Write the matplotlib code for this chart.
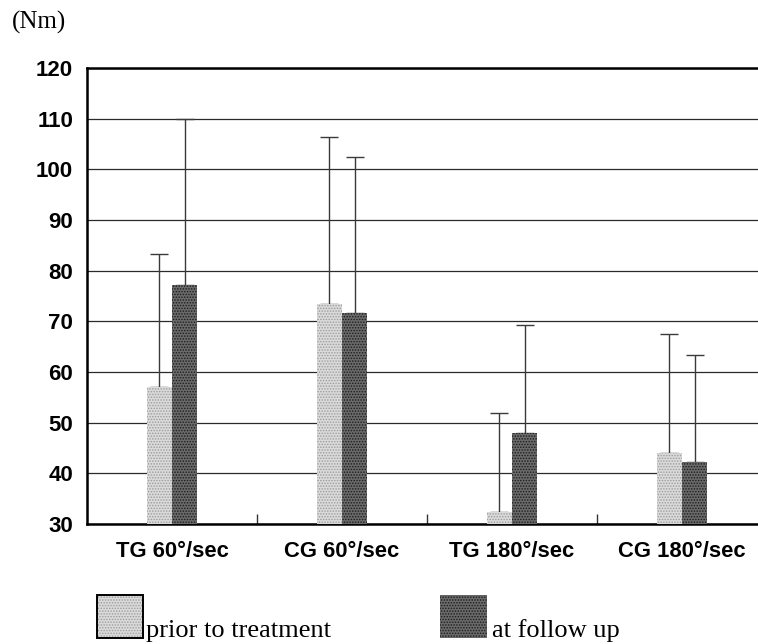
import matplotlib
matplotlib.use("Agg")
import matplotlib.pyplot as plt
from matplotlib.patches import Rectangle
import numpy as np

categories = ["TG 60°/sec", "CG 60°/sec", "TG 180°/sec", "CG 180°/sec"]
prior_mean = [57.0, 73.4, 32.4, 44.0]
prior_sd = [26.2, 33.0, 19.5, 23.5]
follow_mean = [77.2, 71.6, 48.0, 42.2]
follow_sd = [32.7, 30.8, 21.3, 21.2]
y_ticks = [30, 40, 50, 60, 70, 80, 90, 100, 110, 120]
legend_labels = ["prior to treatment", "at follow up"]

plt.rcParams["hatch.linewidth"] = 0.7

W, H = 758, 644
fig = plt.figure(figsize=(W / 100, H / 100), dpi=100)
ax = fig.add_axes([87 / W, 1 - 524 / H, 1 - 87 / W, (524 - 68) / H])

centers = np.arange(len(categories)) + 0.5
bw = 0.148

prior_style = dict(facecolor="#dadada", edgecolor="#9c9c9c", hatch="......", linewidth=0)
follow_style = dict(facecolor="#6a6a6a", edgecolor="#1c1c1c", hatch="......", linewidth=0)

ax.bar(centers - bw / 2, np.array(prior_mean) - 30, bw, bottom=30, zorder=3, **prior_style)
ax.bar(centers + bw / 2, np.array(follow_mean) - 30, bw, bottom=30, zorder=3, **follow_style)

for xs, m, s in [(centers - bw / 2, prior_mean, prior_sd), (centers + bw / 2, follow_mean, follow_sd)]:
    ax.errorbar(xs, m, yerr=[np.zeros(len(m)), s], fmt="none", ecolor="#3a3a3a",
                elinewidth=1.0, capsize=6.5, capthick=1.0, zorder=2)

ax.set_ylim(30, 120)
ax.set_xlim(0, (W - 87) / 170)
ax.set_yticks(y_ticks)
ax.yaxis.grid(True, color="#2a2a2a", linewidth=0.9, zorder=1)
ax.set_axisbelow(True)

ax.set_xticks(centers)
ax.set_xticklabels(categories)
ax.set_xticks([1, 2, 3], minor=True)
ax.tick_params(axis="x", which="major", length=0, pad=12)
ax.tick_params(axis="x", which="minor", direction="in", length=7, width=1, color="#333333")
ax.tick_params(axis="y", length=0, pad=10)
for lab in ax.get_xticklabels():
    lab.set_fontfamily("Liberation Sans")
    lab.set_fontweight("bold")
    lab.set_fontsize(15.8)
for lab in ax.get_yticklabels():
    lab.set_fontfamily("Liberation Sans")
    lab.set_fontweight("bold")
    lab.set_fontsize(16)

ax.spines["right"].set_visible(False)
for side in ["left", "bottom", "top"]:
    ax.spines[side].set_linewidth(1.8)
    ax.spines[side].set_color("black")

fig.text(12 / W, 1 - 22 / H, "(Nm)", fontfamily="Liberation Serif", fontsize=18, va="center", ha="left")

# legend swatches and labels
fig.add_artist(Rectangle((97 / W, 1 - 638 / H), 46 / W, 43 / H, transform=fig.transFigure,
                         facecolor="#dadada", edgecolor="#9c9c9c", hatch="......", linewidth=0))
fig.add_artist(Rectangle((97 / W, 1 - 638 / H), 46 / W, 43 / H, transform=fig.transFigure,
                         facecolor="none", edgecolor="black", linewidth=1.4))
fig.add_artist(Rectangle((440 / W, 1 - 638 / H), 47 / W, 43 / H, transform=fig.transFigure,
                         facecolor="#6a6a6a", edgecolor="#1c1c1c", hatch="......", linewidth=0))
fig.text(146 / W, 1 - 637 / H, legend_labels[0], fontfamily="Liberation Serif", fontsize=19,
         ha="left", va="baseline")
fig.text(492 / W, 1 - 637 / H, legend_labels[1], fontfamily="Liberation Serif", fontsize=19,
         ha="left", va="baseline")

fig.savefig("out.png", dpi=100)
